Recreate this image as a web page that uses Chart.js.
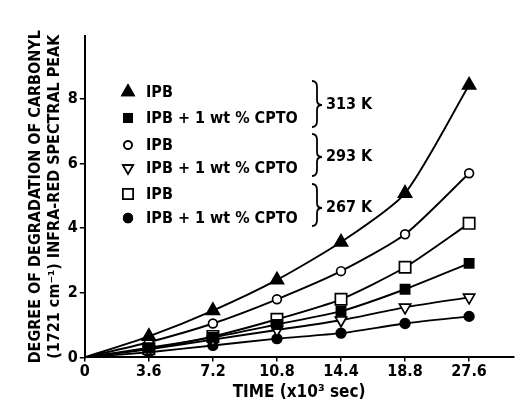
<!DOCTYPE html>
<html><head><meta charset="utf-8">
<script src="https://cdn.jsdelivr.net/npm/chart.js@4.4.0/dist/chart.umd.min.js"></script>
<style>html,body{margin:0;padding:0;background:#fff}#wrap{width:523px;height:407px}</style>
</head><body><div id="wrap"><canvas id="c" width="523" height="407"></canvas></div>
<script>
const timeLabels = ['0', '3.6', '7.2', '10.8', '14.4', '18.8', '27.6'];
const yTicks = [0, 2, 4, 6, 8];
const ipb313 = [0, 0.65, 1.45, 2.40, 3.57, 5.08, 8.43];
const cpto313 = [0, 0.30, 0.62, 1.02, 1.43, 2.11, 2.91];
const ipb293 = [0, 0.47, 1.05, 1.80, 2.67, 3.81, 5.70];
const cpto293 = [0, 0.25, 0.55, 0.85, 1.15, 1.55, 1.86];
const ipb267 = [0, 0.27, 0.65, 1.18, 1.80, 2.79, 4.15];
const cpto267 = [0, 0.16, 0.37, 0.58, 0.75, 1.05, 1.27];
const legendRows = ['IPB', 'IPB + 1 wt % CPTO', 'IPB', 'IPB + 1 wt % CPTO', 'IPB', 'IPB + 1 wt % CPTO'];
const tempLabels = ['313 K', '293 K', '267 K'];

const FONT = "'Liberation Sans Narrow','DejaVu Sans Condensed','Liberation Sans',sans-serif";
const toPts = arr => arr.map((v, i) => ({x: i, y: v}));

const styles = [
  {style: 'triangle', r: 7.5, fill: '#000', rot: 0},
  {style: 'rect', r: 6.5, fill: '#000', rot: 0},
  {style: 'circle', r: 4.4, fill: '#fff', rot: 0},
  {style: 'triangle', r: 6.5, fill: '#fff', rot: 180},
  {style: 'rect', r: 8, fill: '#fff', rot: 0},
  {style: 'circle', r: 4.8, fill: '#000', rot: 0}
];
const series = [ipb313, cpto313, ipb293, cpto293, ipb267, cpto267];

const datasets = series.map((s, k) => ({
  data: toPts(s),
  borderColor: '#000',
  borderWidth: 1.9,
  backgroundColor: styles[k].fill,
  pointBackgroundColor: styles[k].fill,
  pointBorderColor: '#000',
  pointBorderWidth: 1.7,
  pointStyle: styles[k].style,
  pointRotation: styles[k].rot,
  pointRadius: c => c.dataIndex === 0 ? 0 : styles[k].r,
  tension: 0.22,
  fill: false
}));

const legendPlugin = {
  id: 'customLegend',
  afterDraw(chart) {
    const ctx = chart.ctx;
    const rowY = [92, 118, 145, 168, 194, 218];
    ctx.save();
    ctx.fillStyle = '#000';
    ctx.textBaseline = 'middle';
    ctx.font = "bold 16px " + FONT;
    rowY.forEach((y, i) => {
      const st = styles[i];
      ctx.fillStyle = st.fill; ctx.strokeStyle = '#000'; ctx.lineWidth = 1.7;
      Chart.helpers.drawPoint(ctx, {pointStyle: st.style, radius: st.r * 0.9, rotation: st.rot, borderWidth: 1.7}, 128, y);
      ctx.fill(); ctx.stroke();
      ctx.fillStyle = '#000';
      ctx.fillText(legendRows[i], 146, y + 1);
    });
    const groups = [[81, 127, 105], [134, 176, 157], [184, 226, 208]];
    ctx.lineWidth = 1.8;
    groups.forEach((g, i) => {
      const [t, b, m] = g;
      const x = 312;
      ctx.beginPath();
      ctx.moveTo(x, t);
      ctx.quadraticCurveTo(x + 5, t, x + 5, t + 6);
      ctx.lineTo(x + 5, m - 5);
      ctx.quadraticCurveTo(x + 5, m, x + 10, m);
      ctx.quadraticCurveTo(x + 5, m, x + 5, m + 5);
      ctx.lineTo(x + 5, b - 6);
      ctx.quadraticCurveTo(x + 5, b, x, b);
      ctx.stroke();
      ctx.fillText(tempLabels[i], 326, m);
    });
    ctx.restore();
  }
};

new Chart(document.getElementById('c'), {
  type: 'line',
  data: {datasets},
  plugins: [legendPlugin],
  options: {
    responsive: false,
    animation: false,
    devicePixelRatio: 1,
    layout: {padding: {top: 36, right: 0, left: 27, bottom: 4}},
    plugins: {legend: {display: false}, tooltip: {enabled: false}},
    scales: {
      x: {
        type: 'linear', min: 0, max: 6.69,
        afterBuildTicks: sc => { sc.ticks = timeLabels.map((_, i) => ({value: i})); },
        ticks: {callback: v => timeLabels[v], color: '#000', font: {family: FONT, size: 16, weight: 'bold'}, maxRotation: 0, padding: 1},
        grid: {display: true, drawOnChartArea: false, color: '#000', tickLength: 4, lineWidth: 1.5},
        border: {color: '#000', width: 2},
        title: {display: true, text: 'TIME (x10³ sec)', color: '#000', font: {family: FONT, size: 17, weight: 'bold'}, padding: {top: 0, bottom: 0}}
      },
      y: {
        type: 'linear', min: 0, max: 9.95,
        afterBuildTicks: sc => { sc.ticks = yTicks.map(v => ({value: v})); },
        ticks: {color: '#000', font: {family: FONT, size: 16, weight: 'bold'}, padding: 2},
        grid: {display: true, drawOnChartArea: false, color: '#000', tickLength: 5, lineWidth: 1.5},
        border: {color: '#000', width: 2},
        title: {display: true, text: ['DEGREE OF DEGRADATION OF CARBONYL', '(1721 cm⁻¹) INFRA-RED SPECTRAL PEAK'], color: '#000', font: {family: FONT, size: 16, weight: 'bold', lineHeight: 1.15}, padding: {top: 0, bottom: 2}}
      }
    }
  }
});
</script></body></html>
